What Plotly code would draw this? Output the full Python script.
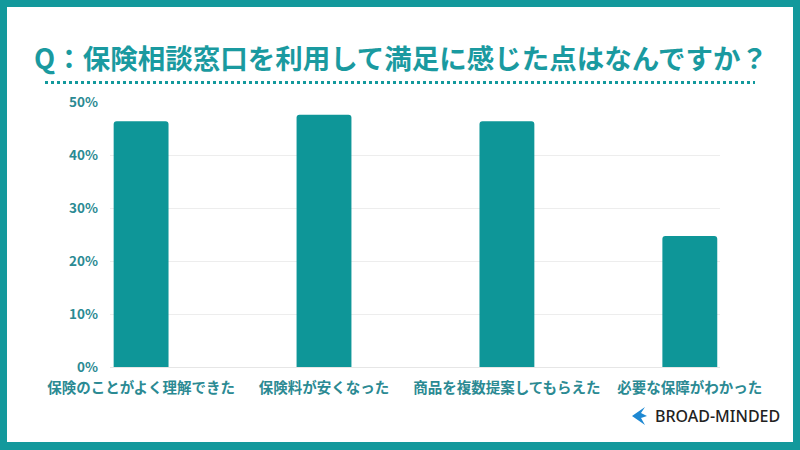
import plotly.graph_objects as go

categories = ["保険のことがよく理解できた", "保険料が安くなった", "商品を複数提案してもらえた", "必要な保障がわかった"]
values = [46.5, 47.7, 46.5, 24.8]
y_ticks = [0, 10, 20, 30, 40, 50]
y_tick_labels = ["0%", "10%", "20%", "30%", "40%", "50%"]
title_text = "Q：保険相談窓口を利用して満足に感じた点はなんですか？"
brand_text = "BROAD-MINDED"

TEAL = "#13999C"
BAR = "#0E9698"
LABEL = "#2B8A93"
W, H = 800, 450
FONT = "Noto Sans CJK JP"

x_idx = list(range(len(categories)))

fig = go.Figure()
fig.add_trace(go.Bar(
    x=x_idx, y=values, width=0.30,
    marker=dict(color=BAR, cornerradius=3, line=dict(width=0)),
    hoverinfo="skip",
))

fig.update_layout(
    width=W, height=H, autosize=False,
    margin=dict(l=0, r=0, t=0, b=0, autoexpand=False),
    paper_bgcolor=TEAL,
    plot_bgcolor="rgba(0,0,0,0)",
    showlegend=False,
    font=dict(family=FONT),
    xaxis=dict(
        domain=[110 / W, 720 / W],
        range=[-0.17, 3.165],
        tickmode="array", tickvals=x_idx, ticktext=categories,
        tickfont=dict(family=FONT, size=14.5, color=LABEL, weight="bold"),
        tickangle=0, automargin=False,
        showgrid=False, zeroline=False, showline=False,
        ticks="", ticklabelstandoff=10,
        fixedrange=True,
    ),
    yaxis=dict(
        domain=[(H - 367) / H, (H - 102.7) / H],
        range=[0, 50],
        tickmode="array", tickvals=y_ticks, ticktext=y_tick_labels,
        tickfont=dict(family=FONT, size=13.5, color=LABEL, weight="bold"),
        automargin=False,
        showgrid=True, gridcolor="#EDEDED", gridwidth=1,
        zeroline=True, zerolinecolor="#E6E6E6", zerolinewidth=1,
        showline=False, ticks="", ticklabelstandoff=11,
        fixedrange=True,
    ),
    shapes=[
        dict(type="rect", xref="paper", yref="paper",
             x0=7 / W, x1=793 / W, y0=(H - 442) / H, y1=(H - 7) / H,
             fillcolor="white", line=dict(width=0), layer="below"),
        dict(type="line", xref="paper", yref="paper",
             x0=45 / W, x1=755 / W, y0=(H - 82.5) / H, y1=(H - 82.5) / H,
             line=dict(color=TEAL, width=3, dash="dot")),
        dict(type="path", xref="paper", yref="paper",
             path="M {a},{b} L {c},{d} L {e},{f} L {g},{h} L {i},{j} L {k},{l} Z".format(
                 a=645 / W, b=(H - 407) / H,
                 c=632 / W, d=(H - 416) / H,
                 e=645 / W, f=(H - 425) / H,
                 g=641 / W, h=(H - 418) / H,
                 i=647 / W, j=(H - 416) / H,
                 k=641 / W, l=(H - 413) / H),
             fillcolor="#1E88D2", line=dict(width=0)),
    ],
    annotations=[
        dict(text=title_text, xref="paper", yref="paper",
             x=401 / W, y=(H - 57.5) / H, xanchor="center", yanchor="middle",
             showarrow=False,
             font=dict(family=FONT, size=27.5, color="#1A9AA0", weight="bold")),
        dict(text=brand_text, xref="paper", yref="paper",
             x=653 / W, y=(H - 416) / H, xanchor="left", yanchor="middle",
             showarrow=False,
             font=dict(family="Noto Sans", size=16, color="#222222", weight=500)),
    ],
)

fig.write_html(
    "out.html",
    config={"displayModeBar": False},
    post_script="document.body.style.margin='0';document.body.style.padding='0';",
)
